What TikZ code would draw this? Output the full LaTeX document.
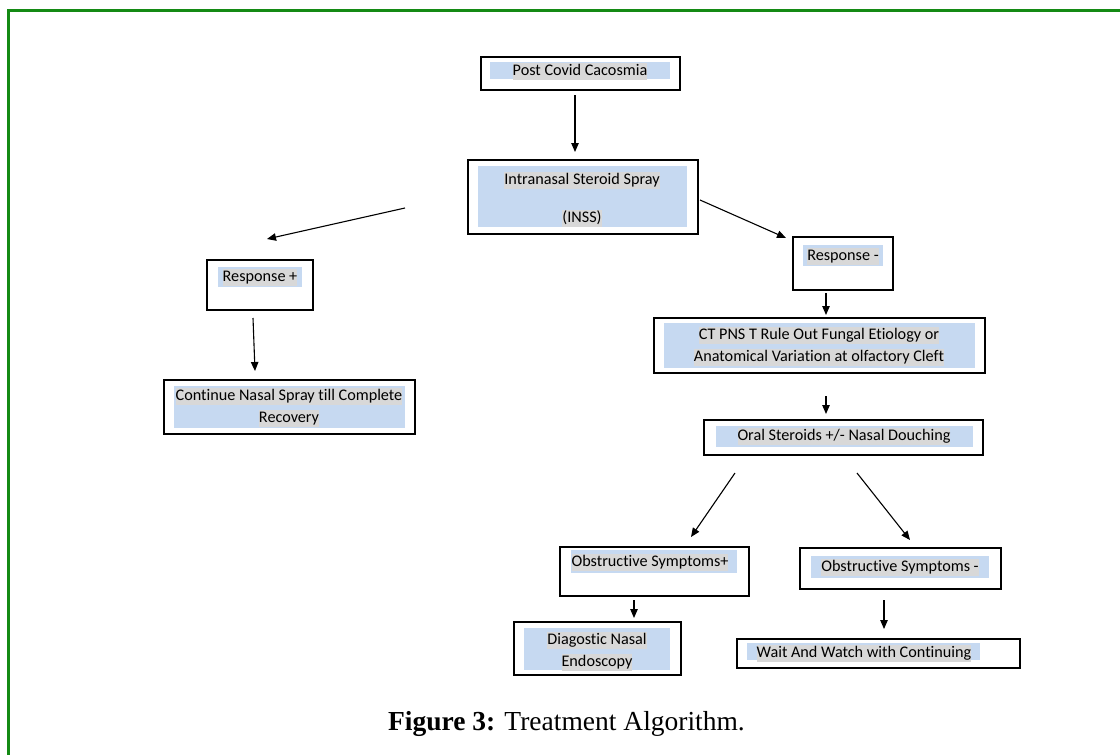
\documentclass[tikz,border=0pt]{standalone}
\usepackage{fontspec}
\setmainfont{Carlito}[Ligatures=NoCommon]
\newfontfamily\capfont{Liberation Serif}
\usetikzlibrary{arrows.meta, positioning}

\definecolor{frameGreen}{RGB}{20,138,20}
\definecolor{bandBlue}{RGB}{198,217,241}
\definecolor{markGray}{RGB}{216,216,216}

\begin{document}
\begin{tikzpicture}[x=1pt, y=-1pt,
    box/.style={draw=black, line width=1.3pt, inner sep=0pt},
    band/.style={fill=bandBlue, inner sep=0pt},
    word/.style={fill=markGray, inner sep=0pt, text height=12pt, text depth=4.5pt,
                 font=\fontsize{16.2}{19}\selectfont},
    arr/.style={-{Triangle[length=9pt, width=7.5pt]}, line width=1.1pt}]
  \useasboundingbox (0,0) rectangle (1120,755);

  % Frame ------------------------------------------------------------------
  \draw[frameGreen, line width=3pt] (8.5,755) -- (8.5,10.5) -- (1120,10.5);

  % Boxes ------------------------------------------------------------------
  \node[box, minimum width=199, minimum height=33] (post) at (580.5,73.5) {};
  \node[band, minimum width=180, minimum height=17] at (580,70.5) {};
  \node[word] (postT) at (580,71.5) {Post Covid Cacosmia};

  \node[box, minimum width=230, minimum height=74] (inss) at (583,197) {};
  \node[band, minimum width=209, minimum height=61] at (582.5,196.5) {};
  \node[word] (inssT) at (582,180.5) {Intranasal Steroid Spray};
  \node[word] (inssU) at (582,218.5) {(INSS)};

  \node[box, minimum width=106, minimum height=50] (respP) at (260,285) {};
  \node[band, minimum width=84, minimum height=20] at (260,277) {};
  \node[word] (respPT) at (260,277.5) {Response +};

  \node[box, minimum width=251, minimum height=54] (cont) at (289.5,407) {};
  \node[band, minimum width=231, minimum height=42] at (289.5,407) {};
  \node[word] (contT) at (289,396.5) {Continue Nasal Spray till Complete};
  \node[word] (contU) at (289,418.5) {Recovery};

  \node[box, minimum width=100, minimum height=53] (respN) at (843,263.5) {};
  \node[band, minimum width=80, minimum height=21] at (843,255.5) {};
  \node[word] (respNT) at (843,256.5) {Response -};

  \node[box, minimum width=331, minimum height=55] (ct) at (819.5,345.5) {};
  \node[band, minimum width=311, minimum height=45] at (819.5,345.5) {};
  \node[word] (ctT) at (819,335.5) {CT PNS T Rule Out Fungal Etiology or};
  \node[word] (ctU) at (819,357.5) {Anatomical Variation at olfactory Cleft};

  \node[box, minimum width=279, minimum height=35] (oral) at (843.5,437.5) {};
  \node[band, minimum width=257, minimum height=21] at (844.5,436.5) {};
  \node[word] (oralT) at (844,436.5) {Oral Steroids +/- Nasal Douching};

  \node[box, minimum width=189, minimum height=49] (obsP) at (654.5,571.5) {};
  \node[band, minimum width=166, minimum height=23] at (654,561.5) {};
  \node[word] (obsPT) at (650,562.5) {Obstructive Symptoms+};

  \node[box, minimum width=201, minimum height=41] (obsN) at (900.5,568.5) {};
  \node[band, minimum width=178, minimum height=22] at (900,567) {};
  \node[word] (obsNT) at (900,567.5) {Obstructive Symptoms -};

  \node[box, minimum width=167, minimum height=53] (diag) at (597.5,648.5) {};
  \node[band, minimum width=146, minimum height=42] at (597,649) {};
  \node[word] (diagT) at (597,640.5) {Diagostic Nasal};
  \node[word] (diagU) at (597,662.5) {Endoscopy};

  \node[box, minimum width=283, minimum height=29] (wait) at (878.5,653.5) {};
  \node[band, minimum width=233, minimum height=17] at (863.5,651.5) {};
  \node[word] (waitT) at (864,653.5) {Wait And Watch with Continuing};

  % Arrow ends -------------------------------------------------------------
  \coordinate (postOut) at (575,95);   \coordinate (inssIn) at (575,152);
  \coordinate (leftOut) at (405,208);  \coordinate (respPIn) at (267,239);
  \coordinate (inssOut) at (700,200);  \coordinate (respNIn) at (786,238);
  \coordinate (respPOut) at (253,318); \coordinate (contIn) at (255,371);
  \coordinate (respNOut) at (826,293); \coordinate (ctIn) at (826,315);
  \coordinate (ctOut) at (826,396);    \coordinate (oralIn) at (826,414);
  \coordinate (oralOutL) at (735,473); \coordinate (obsPIn) at (691,537);
  \coordinate (oralOutR) at (857,473); \coordinate (obsNIn) at (910,540);
  \coordinate (obsPOut) at (634,600);  \coordinate (diagIn) at (634,618);
  \coordinate (obsNOut) at (884,600);  \coordinate (waitIn) at (884,629);

  % Arrows -----------------------------------------------------------------
  \draw[arr] (postOut) -- (inssIn);
  \draw[arr] (leftOut) -- (respPIn);
  \draw[arr] (inssOut) -- (respNIn);
  \draw[arr] (respPOut) -- (contIn);
  \draw[arr] (respNOut) -- (ctIn);
  \draw[arr] (ctOut) -- (oralIn);
  \draw[arr] (oralOutL) -- (obsPIn);
  \draw[arr] (oralOutR) -- (obsNIn);
  \draw[arr] (obsPOut) -- (diagIn);
  \draw[arr] (obsNOut) -- (waitIn);

  % Caption ----------------------------------------------------------------
  \node (caption) at (566.5,724)
    {\capfont\fontsize{27.5}{32}\selectfont\textbf{Figure 3:} Treatment Algorithm.};
\end{tikzpicture}
\end{document}
